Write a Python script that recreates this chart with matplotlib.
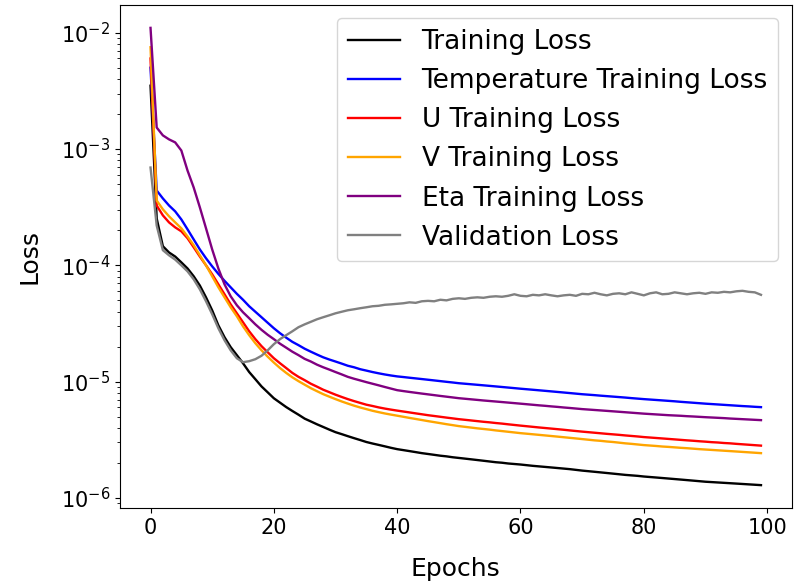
import matplotlib
matplotlib.use("Agg")
import matplotlib.pyplot as plt
import numpy as np

# per-epoch losses (100 epochs)
train_loss = [
    3.5e-3, 2.53e-4, 1.46e-4, 1.29e-4, 1.19e-4, 1.06e-4, 9.4e-5, 8.05e-5, 6.7e-5, 5.3e-5,
    4.1e-5, 3.05e-5, 2.41e-5, 1.98e-5, 1.69e-5, 1.44e-5, 1.21e-5, 1.05e-5, 9.1e-6, 8.1e-6,
    7.2e-6, 6.6e-6, 6.05e-6, 5.6e-6, 5.2e-6, 4.81e-6, 4.55e-6, 4.3e-6, 4.08e-6, 3.87e-6,
    3.68e-6, 3.54e-6, 3.4e-6, 3.27e-6, 3.15e-6, 3.03e-6, 2.94e-6, 2.86e-6, 2.78e-6, 2.70e-6,
    2.63e-6, 2.58e-6, 2.53e-6, 2.48e-6, 2.43e-6, 2.39e-6, 2.35e-6, 2.31e-6, 2.28e-6, 2.24e-6,
    2.21e-6, 2.18e-6, 2.15e-6, 2.12e-6, 2.09e-6, 2.06e-6, 2.03e-6, 2.01e-6, 1.98e-6, 1.96e-6,
    1.94e-6, 1.915e-6, 1.89e-6, 1.87e-6, 1.85e-6, 1.83e-6, 1.81e-6, 1.79e-6, 1.77e-6, 1.745e-6,
    1.72e-6, 1.70e-6, 1.68e-6, 1.66e-6, 1.64e-6, 1.62e-6, 1.60e-6, 1.58e-6, 1.565e-6, 1.55e-6,
    1.53e-6, 1.515e-6, 1.50e-6, 1.485e-6, 1.47e-6, 1.455e-6, 1.44e-6, 1.425e-6, 1.41e-6, 1.395e-6,
    1.38e-6, 1.37e-6, 1.36e-6, 1.35e-6, 1.34e-6, 1.33e-6, 1.32e-6, 1.31e-6, 1.30e-6, 1.29e-6,
]
temp_loss = [
    5.0e-3, 4.40e-4, 3.76e-4, 3.27e-4, 2.91e-4, 2.48e-4, 2.04e-4, 1.67e-4, 1.37e-4, 1.15e-4,
    9.8e-5, 8.45e-5, 7.36e-5, 6.47e-5, 5.69e-5, 5.06e-5, 4.45e-5, 3.99e-5, 3.58e-5, 3.21e-5,
    2.88e-5, 2.61e-5, 2.39e-5, 2.20e-5, 2.06e-5, 1.92e-5, 1.81e-5, 1.71e-5, 1.62e-5, 1.55e-5,
    1.49e-5, 1.43e-5, 1.37e-5, 1.33e-5, 1.28e-5, 1.245e-5, 1.21e-5, 1.18e-5, 1.153e-5, 1.13e-5,
    1.11e-5, 1.096e-5, 1.081e-5, 1.067e-5, 1.053e-5, 1.039e-5, 1.025e-5, 1.011e-5, 9.97e-6, 9.84e-6,
    9.70e-6, 9.60e-6, 9.50e-6, 9.40e-6, 9.30e-6, 9.20e-6, 9.10e-6, 9.00e-6, 8.90e-6, 8.80e-6,
    8.70e-6, 8.61e-6, 8.52e-6, 8.43e-6, 8.34e-6, 8.25e-6, 8.16e-6, 8.07e-6, 7.98e-6, 7.89e-6,
    7.80e-6, 7.73e-6, 7.66e-6, 7.58e-6, 7.51e-6, 7.44e-6, 7.37e-6, 7.30e-6, 7.22e-6, 7.15e-6,
    7.08e-6, 7.02e-6, 6.96e-6, 6.90e-6, 6.84e-6, 6.78e-6, 6.71e-6, 6.65e-6, 6.59e-6, 6.53e-6,
    6.47e-6, 6.42e-6, 6.37e-6, 6.32e-6, 6.27e-6, 6.22e-6, 6.17e-6, 6.13e-6, 6.08e-6, 6.04e-6,
]
u_loss = [
    6.0e-3, 3.27e-4, 2.69e-4, 2.34e-4, 2.12e-4, 1.96e-4, 1.71e-4, 1.43e-4, 1.19e-4, 1.0e-4,
    8.37e-5, 6.87e-5, 5.64e-5, 4.62e-5, 3.87e-5, 3.24e-5, 2.71e-5, 2.32e-5, 2.02e-5, 1.79e-5,
    1.59e-5, 1.44e-5, 1.31e-5, 1.19e-5, 1.10e-5, 1.03e-5, 9.6e-6, 9.06e-6, 8.53e-6, 8.12e-6,
    7.73e-6, 7.39e-6, 7.08e-6, 6.81e-6, 6.57e-6, 6.34e-6, 6.18e-6, 6.01e-6, 5.87e-6, 5.75e-6,
    5.64e-6, 5.54e-6, 5.44e-6, 5.34e-6, 5.245e-6, 5.15e-6, 5.07e-6, 4.99e-6, 4.91e-6, 4.835e-6,
    4.76e-6, 4.70e-6, 4.64e-6, 4.58e-6, 4.52e-6, 4.47e-6, 4.41e-6, 4.36e-6, 4.30e-6, 4.245e-6,
    4.19e-6, 4.14e-6, 4.09e-6, 4.04e-6, 3.995e-6, 3.95e-6, 3.905e-6, 3.86e-6, 3.81e-6, 3.765e-6,
    3.72e-6, 3.68e-6, 3.64e-6, 3.60e-6, 3.56e-6, 3.525e-6, 3.49e-6, 3.45e-6, 3.415e-6, 3.38e-6,
    3.34e-6, 3.31e-6, 3.28e-6, 3.25e-6, 3.22e-6, 3.19e-6, 3.16e-6, 3.13e-6, 3.105e-6, 3.075e-6,
    3.05e-6, 3.02e-6, 3.0e-6, 2.97e-6, 2.95e-6, 2.92e-6, 2.895e-6, 2.87e-6, 2.845e-6, 2.82e-6,
]
v_loss = [
    7.5e-3, 3.61e-4, 3.03e-4, 2.64e-4, 2.34e-4, 2.08e-4, 1.77e-4, 1.49e-4, 1.22e-4, 1.0e-4,
    8.05e-5, 6.48e-5, 5.31e-5, 4.36e-5, 3.65e-5, 2.99e-5, 2.51e-5, 2.14e-5, 1.86e-5, 1.64e-5,
    1.46e-5, 1.31e-5, 1.19e-5, 1.09e-5, 1.01e-5, 9.42e-6, 8.79e-6, 8.28e-6, 7.81e-6, 7.43e-6,
    7.08e-6, 6.76e-6, 6.48e-6, 6.22e-6, 6.0e-6, 5.81e-6, 5.62e-6, 5.47e-6, 5.33e-6, 5.21e-6,
    5.10e-6, 4.99e-6, 4.88e-6, 4.78e-6, 4.68e-6, 4.58e-6, 4.49e-6, 4.40e-6, 4.31e-6, 4.23e-6,
    4.15e-6, 4.09e-6, 4.03e-6, 3.97e-6, 3.92e-6, 3.87e-6, 3.81e-6, 3.76e-6, 3.71e-6, 3.66e-6,
    3.61e-6, 3.57e-6, 3.53e-6, 3.49e-6, 3.45e-6, 3.41e-6, 3.37e-6, 3.33e-6, 3.29e-6, 3.25e-6,
    3.21e-6, 3.17e-6, 3.13e-6, 3.10e-6, 3.06e-6, 3.03e-6, 2.99e-6, 2.95e-6, 2.92e-6, 2.885e-6,
    2.85e-6, 2.825e-6, 2.80e-6, 2.77e-6, 2.75e-6, 2.725e-6, 2.70e-6, 2.68e-6, 2.655e-6, 2.63e-6,
    2.61e-6, 2.59e-6, 2.57e-6, 2.55e-6, 2.53e-6, 2.51e-6, 2.49e-6, 2.47e-6, 2.45e-6, 2.43e-6,
]
eta_loss = [
    1.10e-2, 1.53e-3, 1.31e-3, 1.21e-3, 1.14e-3, 9.7e-4, 6.53e-4, 4.67e-4, 3.15e-4, 2.08e-4,
    1.37e-4, 9.4e-5, 6.87e-5, 5.42e-5, 4.54e-5, 3.95e-5, 3.51e-5, 3.11e-5, 2.79e-5, 2.53e-5,
    2.32e-5, 2.12e-5, 1.96e-5, 1.81e-5, 1.69e-5, 1.57e-5, 1.49e-5, 1.40e-5, 1.33e-5, 1.27e-5,
    1.21e-5, 1.155e-5, 1.10e-5, 1.06e-5, 1.025e-5, 9.91e-6, 9.6e-6, 9.3e-6, 9.0e-6, 8.72e-6,
    8.45e-6, 8.3e-6, 8.16e-6, 8.03e-6, 7.9e-6, 7.78e-6, 7.66e-6, 7.54e-6, 7.43e-6, 7.32e-6,
    7.21e-6, 7.13e-6, 7.05e-6, 6.97e-6, 6.89e-6, 6.82e-6, 6.75e-6, 6.68e-6, 6.61e-6, 6.54e-6,
    6.47e-6, 6.40e-6, 6.33e-6, 6.26e-6, 6.2e-6, 6.13e-6, 6.07e-6, 6.0e-6, 5.94e-6, 5.875e-6,
    5.81e-6, 5.76e-6, 5.71e-6, 5.66e-6, 5.61e-6, 5.56e-6, 5.51e-6, 5.46e-6, 5.41e-6, 5.36e-6,
    5.31e-6, 5.27e-6, 5.23e-6, 5.19e-6, 5.15e-6, 5.12e-6, 5.09e-6, 5.05e-6, 5.02e-6, 4.985e-6,
    4.95e-6, 4.92e-6, 4.89e-6, 4.86e-6, 4.82e-6, 4.79e-6, 4.76e-6, 4.73e-6, 4.70e-6, 4.67e-6,
]
val_loss = [
    6.93e-4, 2.2e-4, 1.35e-4, 1.22e-4, 1.12e-4, 1.0e-4, 8.88e-5, 7.58e-5, 6.22e-5, 4.91e-5,
    3.8e-5, 2.88e-5, 2.27e-5, 1.86e-5, 1.59e-5, 1.47e-5, 1.50e-5, 1.56e-5, 1.67e-5, 1.86e-5,
    2.1e-5, 2.32e-5, 2.51e-5, 2.71e-5, 2.94e-5, 3.11e-5, 3.27e-5, 3.44e-5, 3.58e-5, 3.72e-5,
    3.87e-5, 3.99e-5, 4.11e-5, 4.19e-5, 4.28e-5, 4.36e-5, 4.45e-5, 4.49e-5, 4.58e-5, 4.62e-5,
    4.67e-5, 4.72e-5, 4.81e-5, 4.76e-5, 4.91e-5, 4.95e-5, 4.91e-5, 5.06e-5, 5.0e-5, 5.15e-5,
    5.21e-5, 5.15e-5, 5.26e-5, 5.31e-5, 5.26e-5, 5.37e-5, 5.42e-5, 5.37e-5, 5.47e-5, 5.64e-5,
    5.47e-5, 5.42e-5, 5.58e-5, 5.52e-5, 5.64e-5, 5.52e-5, 5.42e-5, 5.52e-5, 5.58e-5, 5.47e-5,
    5.69e-5, 5.64e-5, 5.81e-5, 5.64e-5, 5.52e-5, 5.69e-5, 5.75e-5, 5.64e-5, 5.86e-5, 5.69e-5,
    5.52e-5, 5.75e-5, 5.86e-5, 5.64e-5, 5.69e-5, 5.86e-5, 5.75e-5, 5.64e-5, 5.75e-5, 5.81e-5,
    5.69e-5, 5.86e-5, 5.81e-5, 5.92e-5, 5.86e-5, 5.98e-5, 6.04e-5, 5.92e-5, 5.86e-5, 5.58e-5,
]

series = [
    ("Training Loss", train_loss, "black"),
    ("Temperature Training Loss", temp_loss, "blue"),
    ("U Training Loss", u_loss, "red"),
    ("V Training Loss", v_loss, "orange"),
    ("Eta Training Loss", eta_loss, "purple"),
    ("Validation Loss", val_loss, "gray"),
]

fig = plt.figure(figsize=(7.94, 5.83), dpi=100)
ax = fig.add_axes([120 / 794, 1 - 508 / 583, (791.5 - 120) / 794, (508 - 5) / 583])

epochs = np.arange(len(train_loss))
for label, values, color in series:
    ax.plot(epochs, values, color=color, label=label, linewidth=1.7)

ax.set_yscale("log")
ax.set_xticks([0, 20, 40, 60, 80, 100])
ax.tick_params(axis="both", which="major", labelsize=15)
ax.set_xlabel("Epochs", fontsize=18, labelpad=14)
ax.set_ylabel("Loss", fontsize=18, labelpad=14)
ax.legend(loc="upper right", fontsize=19)

fig.savefig("out.png", dpi=100)
